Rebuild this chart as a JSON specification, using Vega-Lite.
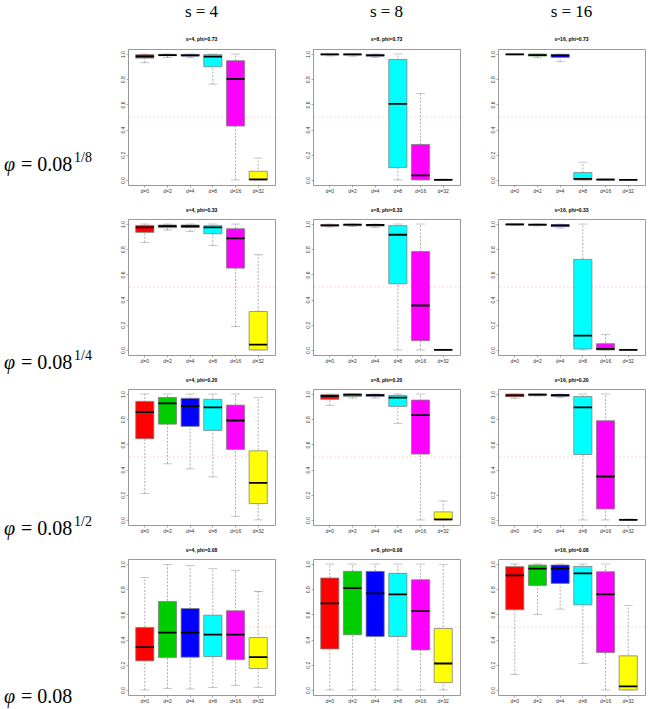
{
"$schema": "https://vega.github.io/schema/vega-lite/v6.json",
"padding": {"left": 4, "top": 2, "right": 2, "bottom": 2},
"columns": 4,
"align": "each",
"bounds": "flush",
"spacing": {"row": 34, "column": 38},
"datasets": {"box": [
{"s":4,"phi":"0.73","d":"d=0","lo":0.931,"q1":0.968,"med":0.981,"q3":0.995,"hi":1},
{"s":4,"phi":"0.73","d":"d=2","lo":0.973,"q1":0.987,"med":0.992,"q3":0.997,"hi":1},
{"s":4,"phi":"0.73","d":"d=4","lo":0.971,"q1":0.984,"med":0.99,"q3":0.997,"hi":1},
{"s":4,"phi":"0.73","d":"d=8","lo":0.761,"q1":0.899,"med":0.979,"q3":0.995,"hi":1},
{"s":4,"phi":"0.73","d":"d=16","lo":0,"q1":0.428,"med":0.803,"q3":0.947,"hi":1},
{"s":4,"phi":"0.73","d":"d=32","lo":0,"q1":0,"med":0.005,"q3":0.069,"hi":0.173},
{"s":8,"phi":"0.73","d":"d=0","lo":0.985,"q1":0.993,"med":0.998,"q3":1,"hi":1},
{"s":8,"phi":"0.73","d":"d=2","lo":0.983,"q1":0.992,"med":0.997,"q3":1,"hi":1},
{"s":8,"phi":"0.73","d":"d=4","lo":0.973,"q1":0.984,"med":0.99,"q3":0.997,"hi":1},
{"s":8,"phi":"0.73","d":"d=8","lo":0,"q1":0.098,"med":0.604,"q3":0.957,"hi":1},
{"s":8,"phi":"0.73","d":"d=16","lo":0,"q1":0,"med":0.037,"q3":0.282,"hi":0.686},
{"s":8,"phi":"0.73","d":"d=32","lo":0,"q1":0,"med":0.001,"q3":0.005,"hi":0.006},
{"s":16,"phi":"0.73","d":"d=0","lo":0.993,"q1":0.995,"med":0.998,"q3":1,"hi":1},
{"s":16,"phi":"0.73","d":"d=2","lo":0.971,"q1":0.984,"med":0.992,"q3":1,"hi":1},
{"s":16,"phi":"0.73","d":"d=4","lo":0.939,"q1":0.973,"med":0.99,"q3":0.997,"hi":1},
{"s":16,"phi":"0.73","d":"d=8","lo":0,"q1":0,"med":0.008,"q3":0.059,"hi":0.141},
{"s":16,"phi":"0.73","d":"d=16","lo":0,"q1":0,"med":0.002,"q3":0.008,"hi":0.008},
{"s":16,"phi":"0.73","d":"d=32","lo":0,"q1":0,"med":0.001,"q3":0.004,"hi":0.005},
{"s":4,"phi":"0.33","d":"d=0","lo":0.854,"q1":0.934,"med":0.973,"q3":0.989,"hi":1},
{"s":4,"phi":"0.33","d":"d=2","lo":0.952,"q1":0.971,"med":0.984,"q3":0.992,"hi":1},
{"s":4,"phi":"0.33","d":"d=4","lo":0.942,"q1":0.973,"med":0.981,"q3":0.992,"hi":1},
{"s":4,"phi":"0.33","d":"d=8","lo":0.83,"q1":0.923,"med":0.973,"q3":0.987,"hi":1},
{"s":4,"phi":"0.33","d":"d=16","lo":0.186,"q1":0.65,"med":0.886,"q3":0.963,"hi":1},
{"s":4,"phi":"0.33","d":"d=32","lo":0,"q1":0,"med":0.042,"q3":0.305,"hi":0.756},
{"s":8,"phi":"0.33","d":"d=0","lo":0.976,"q1":0.984,"med":0.99,"q3":0.995,"hi":1},
{"s":8,"phi":"0.33","d":"d=2","lo":0.98,"q1":0.987,"med":0.995,"q3":0.997,"hi":1},
{"s":8,"phi":"0.33","d":"d=4","lo":0.973,"q1":0.984,"med":0.993,"q3":0.995,"hi":1},
{"s":8,"phi":"0.33","d":"d=8","lo":0,"q1":0.525,"med":0.915,"q3":0.987,"hi":1},
{"s":8,"phi":"0.33","d":"d=16","lo":0,"q1":0.074,"med":0.353,"q3":0.782,"hi":1},
{"s":8,"phi":"0.33","d":"d=32","lo":0,"q1":0,"med":0.001,"q3":0.004,"hi":0.005},
{"s":16,"phi":"0.33","d":"d=0","lo":0.99,"q1":0.992,"med":0.997,"q3":1,"hi":1},
{"s":16,"phi":"0.33","d":"d=2","lo":0.985,"q1":0.989,"med":0.995,"q3":0.997,"hi":1},
{"s":16,"phi":"0.33","d":"d=4","lo":0.968,"q1":0.979,"med":0.99,"q3":0.995,"hi":1},
{"s":16,"phi":"0.33","d":"d=8","lo":0,"q1":0.008,"med":0.114,"q3":0.719,"hi":1},
{"s":16,"phi":"0.33","d":"d=16","lo":0,"q1":0,"med":0.008,"q3":0.05,"hi":0.122},
{"s":16,"phi":"0.33","d":"d=32","lo":0,"q1":0,"med":0.001,"q3":0.004,"hi":0.005},
{"s":4,"phi":"0.20","d":"d=0","lo":0.21,"q1":0.645,"med":0.857,"q3":0.942,"hi":1},
{"s":4,"phi":"0.20","d":"d=2","lo":0.446,"q1":0.761,"med":0.926,"q3":0.973,"hi":1},
{"s":4,"phi":"0.20","d":"d=4","lo":0.406,"q1":0.743,"med":0.905,"q3":0.966,"hi":1},
{"s":4,"phi":"0.20","d":"d=8","lo":0.342,"q1":0.711,"med":0.894,"q3":0.958,"hi":1},
{"s":4,"phi":"0.20","d":"d=16","lo":0.029,"q1":0.56,"med":0.79,"q3":0.912,"hi":1},
{"s":4,"phi":"0.20","d":"d=32","lo":0,"q1":0.13,"med":0.294,"q3":0.549,"hi":0.973},
{"s":8,"phi":"0.20","d":"d=0","lo":0.91,"q1":0.958,"med":0.984,"q3":0.995,"hi":1},
{"s":8,"phi":"0.20","d":"d=2","lo":0.968,"q1":0.981,"med":0.995,"q3":1,"hi":1},
{"s":8,"phi":"0.20","d":"d=4","lo":0.968,"q1":0.981,"med":0.992,"q3":0.997,"hi":1},
{"s":8,"phi":"0.20","d":"d=8","lo":0.767,"q1":0.902,"med":0.971,"q3":0.989,"hi":1},
{"s":8,"phi":"0.20","d":"d=16","lo":0,"q1":0.523,"med":0.833,"q3":0.952,"hi":1},
{"s":8,"phi":"0.20","d":"d=32","lo":0,"q1":0,"med":0.005,"q3":0.064,"hi":0.151},
{"s":16,"phi":"0.20","d":"d=0","lo":0.966,"q1":0.979,"med":0.989,"q3":1,"hi":1},
{"s":16,"phi":"0.20","d":"d=2","lo":0.985,"q1":0.987,"med":0.995,"q3":1,"hi":1},
{"s":16,"phi":"0.20","d":"d=4","lo":0.973,"q1":0.981,"med":0.992,"q3":0.997,"hi":1},
{"s":16,"phi":"0.20","d":"d=8","lo":0,"q1":0.52,"med":0.894,"q3":0.981,"hi":1},
{"s":16,"phi":"0.20","d":"d=16","lo":0,"q1":0.088,"med":0.345,"q3":0.788,"hi":1},
{"s":16,"phi":"0.20","d":"d=32","lo":0,"q1":0,"med":0.001,"q3":0.005,"hi":0.006},
{"s":4,"phi":"0.08","d":"d=0","lo":0,"q1":0.231,"med":0.34,"q3":0.496,"hi":0.894},
{"s":4,"phi":"0.08","d":"d=2","lo":0.013,"q1":0.257,"med":0.456,"q3":0.703,"hi":0.997},
{"s":4,"phi":"0.08","d":"d=4","lo":0.008,"q1":0.26,"med":0.456,"q3":0.647,"hi":0.987},
{"s":4,"phi":"0.08","d":"d=8","lo":0.019,"q1":0.265,"med":0.44,"q3":0.594,"hi":0.963},
{"s":4,"phi":"0.08","d":"d=16","lo":0.037,"q1":0.241,"med":0.44,"q3":0.629,"hi":0.95},
{"s":4,"phi":"0.08","d":"d=32","lo":0.019,"q1":0.17,"med":0.26,"q3":0.416,"hi":0.782},
{"s":8,"phi":"0.08","d":"d=0","lo":0,"q1":0.326,"med":0.687,"q3":0.889,"hi":1},
{"s":8,"phi":"0.08","d":"d=2","lo":0,"q1":0.438,"med":0.809,"q3":0.942,"hi":1},
{"s":8,"phi":"0.08","d":"d=4","lo":0,"q1":0.424,"med":0.767,"q3":0.942,"hi":1},
{"s":8,"phi":"0.08","d":"d=8","lo":0,"q1":0.424,"med":0.759,"q3":0.926,"hi":1},
{"s":8,"phi":"0.08","d":"d=16","lo":0,"q1":0.318,"med":0.626,"q3":0.875,"hi":1},
{"s":8,"phi":"0.08","d":"d=32","lo":0,"q1":0.058,"med":0.21,"q3":0.488,"hi":0.995},
{"s":16,"phi":"0.08","d":"d=0","lo":0.122,"q1":0.637,"med":0.91,"q3":0.979,"hi":1},
{"s":16,"phi":"0.08","d":"d=2","lo":0.6,"q1":0.83,"med":0.963,"q3":0.992,"hi":1},
{"s":16,"phi":"0.08","d":"d=4","lo":0.642,"q1":0.846,"med":0.963,"q3":0.992,"hi":1},
{"s":16,"phi":"0.08","d":"d=8","lo":0.21,"q1":0.676,"med":0.926,"q3":0.981,"hi":1},
{"s":16,"phi":"0.08","d":"d=16","lo":0,"q1":0.297,"med":0.759,"q3":0.939,"hi":1},
{"s":16,"phi":"0.08","d":"d=32","lo":0,"q1":0,"med":0.029,"q3":0.271,"hi":0.671}
]},
"concat": [
{"width":86,"height":136,"view":{"stroke":null},"data":{"values":[{"a":"φ","b":"= 0.08","c":"1/8"}]},
 "encoding":{"x":{"datum":0,"type":"quantitative","scale":{"domain":[0,1]},"axis":null},"y":{"datum":0.07,"type":"quantitative","scale":{"domain":[-0.04,1.04]},"axis":null}},
 "layer":[
  {"mark":{"type":"text","align":"left","baseline":"alphabetic","font":"Liberation Serif","fontSize":20,"fontStyle":"italic"},"encoding":{"text":{"field":"a"}}},
  {"mark":{"type":"text","align":"left","baseline":"alphabetic","font":"Liberation Serif","fontSize":20,"dx":17},"encoding":{"text":{"field":"b"}}},
  {"mark":{"type":"text","align":"left","baseline":"alphabetic","font":"Liberation Serif","fontSize":14,"dx":70,"dy":-9},"encoding":{"text":{"field":"c"}}}
 ]},
{"width":147,"height":136,"title":{"text":"s = 4","subtitle":"s=4, phi=0.73","font":"Liberation Serif","fontSize":17,"fontWeight":"normal"},
 "data":{"name":"box"},"transform":[{"filter":"datum.s == 4 && datum.phi == '0.73'"}],
 "layer":[
  {"transform":[{"aggregate":[{"op":"count","as":"n"}]}],"mark":{"type":"rule","color":"#ffb8c4","strokeDash":[2,2],"strokeWidth":0.6},"encoding":{"y":{"datum":0.5,"type":"quantitative"}}},
  {"mark":{"type":"rule","color":"#9a9a9a","strokeDash":[2,1.5],"strokeWidth":0.8},"encoding":{"x":{"field":"d","type":"nominal","sort":null,"title":null},"y":{"field":"lo","type":"quantitative","scale":{"domain":[-0.04,1.04],"nice":false,"zero":false},"title":null},"y2":{"field":"hi"}}},
  {"mark":{"type":"tick","color":"#9a9a9a","size":9,"thickness":0.8},"encoding":{"x":{"field":"d","type":"nominal","sort":null,"title":null},"y":{"field":"lo","type":"quantitative","title":null}}},
  {"mark":{"type":"tick","color":"#9a9a9a","size":9,"thickness":0.8},"encoding":{"x":{"field":"d","type":"nominal","sort":null,"title":null},"y":{"field":"hi","type":"quantitative","title":null}}},
  {"mark":{"type":"bar","stroke":"#808080","strokeWidth":0.8},"encoding":{"x":{"field":"d","type":"nominal","sort":null,"title":null},"y":{"field":"q1","type":"quantitative","title":null},"y2":{"field":"q3"},"color":{"field":"d","type":"nominal"}}},
  {"mark":{"type":"bar","fill":"transparent","stroke":"#000000","strokeWidth":1.8},"encoding":{"x":{"field":"d","type":"nominal","sort":null,"title":null},"y":{"field":"med","type":"quantitative","title":null},"y2":{"field":"med"}}}
 ]},
{"width":147,"height":136,"title":{"text":"s = 8","subtitle":"s=8, phi=0.73","font":"Liberation Serif","fontSize":17,"fontWeight":"normal"},
 "data":{"name":"box"},"transform":[{"filter":"datum.s == 8 && datum.phi == '0.73'"}],
 "layer":[
  {"transform":[{"aggregate":[{"op":"count","as":"n"}]}],"mark":{"type":"rule","color":"#ffb8c4","strokeDash":[2,2],"strokeWidth":0.6},"encoding":{"y":{"datum":0.5,"type":"quantitative"}}},
  {"mark":{"type":"rule","color":"#9a9a9a","strokeDash":[2,1.5],"strokeWidth":0.8},"encoding":{"x":{"field":"d","type":"nominal","sort":null,"title":null},"y":{"field":"lo","type":"quantitative","scale":{"domain":[-0.04,1.04],"nice":false,"zero":false},"title":null},"y2":{"field":"hi"}}},
  {"mark":{"type":"tick","color":"#9a9a9a","size":9,"thickness":0.8},"encoding":{"x":{"field":"d","type":"nominal","sort":null,"title":null},"y":{"field":"lo","type":"quantitative","title":null}}},
  {"mark":{"type":"tick","color":"#9a9a9a","size":9,"thickness":0.8},"encoding":{"x":{"field":"d","type":"nominal","sort":null,"title":null},"y":{"field":"hi","type":"quantitative","title":null}}},
  {"mark":{"type":"bar","stroke":"#808080","strokeWidth":0.8},"encoding":{"x":{"field":"d","type":"nominal","sort":null,"title":null},"y":{"field":"q1","type":"quantitative","title":null},"y2":{"field":"q3"},"color":{"field":"d","type":"nominal"}}},
  {"mark":{"type":"bar","fill":"transparent","stroke":"#000000","strokeWidth":1.8},"encoding":{"x":{"field":"d","type":"nominal","sort":null,"title":null},"y":{"field":"med","type":"quantitative","title":null},"y2":{"field":"med"}}}
 ]},
{"width":147,"height":136,"title":{"text":"s = 16","subtitle":"s=16, phi=0.73","font":"Liberation Serif","fontSize":17,"fontWeight":"normal"},
 "data":{"name":"box"},"transform":[{"filter":"datum.s == 16 && datum.phi == '0.73'"}],
 "layer":[
  {"transform":[{"aggregate":[{"op":"count","as":"n"}]}],"mark":{"type":"rule","color":"#ffb8c4","strokeDash":[2,2],"strokeWidth":0.6},"encoding":{"y":{"datum":0.5,"type":"quantitative"}}},
  {"mark":{"type":"rule","color":"#9a9a9a","strokeDash":[2,1.5],"strokeWidth":0.8},"encoding":{"x":{"field":"d","type":"nominal","sort":null,"title":null},"y":{"field":"lo","type":"quantitative","scale":{"domain":[-0.04,1.04],"nice":false,"zero":false},"title":null},"y2":{"field":"hi"}}},
  {"mark":{"type":"tick","color":"#9a9a9a","size":9,"thickness":0.8},"encoding":{"x":{"field":"d","type":"nominal","sort":null,"title":null},"y":{"field":"lo","type":"quantitative","title":null}}},
  {"mark":{"type":"tick","color":"#9a9a9a","size":9,"thickness":0.8},"encoding":{"x":{"field":"d","type":"nominal","sort":null,"title":null},"y":{"field":"hi","type":"quantitative","title":null}}},
  {"mark":{"type":"bar","stroke":"#808080","strokeWidth":0.8},"encoding":{"x":{"field":"d","type":"nominal","sort":null,"title":null},"y":{"field":"q1","type":"quantitative","title":null},"y2":{"field":"q3"},"color":{"field":"d","type":"nominal"}}},
  {"mark":{"type":"bar","fill":"transparent","stroke":"#000000","strokeWidth":1.8},"encoding":{"x":{"field":"d","type":"nominal","sort":null,"title":null},"y":{"field":"med","type":"quantitative","title":null},"y2":{"field":"med"}}}
 ]},
{"width":86,"height":136,"view":{"stroke":null},"data":{"values":[{"a":"φ","b":"= 0.08","c":"1/4"}]},
 "encoding":{"x":{"datum":0,"type":"quantitative","scale":{"domain":[0,1]},"axis":null},"y":{"datum":-0.15,"type":"quantitative","scale":{"domain":[-0.04,1.04]},"axis":null}},
 "layer":[
  {"mark":{"type":"text","align":"left","baseline":"alphabetic","font":"Liberation Serif","fontSize":20,"fontStyle":"italic"},"encoding":{"text":{"field":"a"}}},
  {"mark":{"type":"text","align":"left","baseline":"alphabetic","font":"Liberation Serif","fontSize":20,"dx":17},"encoding":{"text":{"field":"b"}}},
  {"mark":{"type":"text","align":"left","baseline":"alphabetic","font":"Liberation Serif","fontSize":14,"dx":70,"dy":-9},"encoding":{"text":{"field":"c"}}}
 ]},
{"width":147,"height":136,"title":{"text":"s=4, phi=0.33"},
 "data":{"name":"box"},"transform":[{"filter":"datum.s == 4 && datum.phi == '0.33'"}],
 "layer":[
  {"transform":[{"aggregate":[{"op":"count","as":"n"}]}],"mark":{"type":"rule","color":"#ffb8c4","strokeDash":[2,2],"strokeWidth":0.6},"encoding":{"y":{"datum":0.5,"type":"quantitative"}}},
  {"mark":{"type":"rule","color":"#9a9a9a","strokeDash":[2,1.5],"strokeWidth":0.8},"encoding":{"x":{"field":"d","type":"nominal","sort":null,"title":null},"y":{"field":"lo","type":"quantitative","scale":{"domain":[-0.04,1.04],"nice":false,"zero":false},"title":null},"y2":{"field":"hi"}}},
  {"mark":{"type":"tick","color":"#9a9a9a","size":9,"thickness":0.8},"encoding":{"x":{"field":"d","type":"nominal","sort":null,"title":null},"y":{"field":"lo","type":"quantitative","title":null}}},
  {"mark":{"type":"tick","color":"#9a9a9a","size":9,"thickness":0.8},"encoding":{"x":{"field":"d","type":"nominal","sort":null,"title":null},"y":{"field":"hi","type":"quantitative","title":null}}},
  {"mark":{"type":"bar","stroke":"#808080","strokeWidth":0.8},"encoding":{"x":{"field":"d","type":"nominal","sort":null,"title":null},"y":{"field":"q1","type":"quantitative","title":null},"y2":{"field":"q3"},"color":{"field":"d","type":"nominal"}}},
  {"mark":{"type":"bar","fill":"transparent","stroke":"#000000","strokeWidth":1.8},"encoding":{"x":{"field":"d","type":"nominal","sort":null,"title":null},"y":{"field":"med","type":"quantitative","title":null},"y2":{"field":"med"}}}
 ]},
{"width":147,"height":136,"title":{"text":"s=8, phi=0.33"},
 "data":{"name":"box"},"transform":[{"filter":"datum.s == 8 && datum.phi == '0.33'"}],
 "layer":[
  {"transform":[{"aggregate":[{"op":"count","as":"n"}]}],"mark":{"type":"rule","color":"#ffb8c4","strokeDash":[2,2],"strokeWidth":0.6},"encoding":{"y":{"datum":0.5,"type":"quantitative"}}},
  {"mark":{"type":"rule","color":"#9a9a9a","strokeDash":[2,1.5],"strokeWidth":0.8},"encoding":{"x":{"field":"d","type":"nominal","sort":null,"title":null},"y":{"field":"lo","type":"quantitative","scale":{"domain":[-0.04,1.04],"nice":false,"zero":false},"title":null},"y2":{"field":"hi"}}},
  {"mark":{"type":"tick","color":"#9a9a9a","size":9,"thickness":0.8},"encoding":{"x":{"field":"d","type":"nominal","sort":null,"title":null},"y":{"field":"lo","type":"quantitative","title":null}}},
  {"mark":{"type":"tick","color":"#9a9a9a","size":9,"thickness":0.8},"encoding":{"x":{"field":"d","type":"nominal","sort":null,"title":null},"y":{"field":"hi","type":"quantitative","title":null}}},
  {"mark":{"type":"bar","stroke":"#808080","strokeWidth":0.8},"encoding":{"x":{"field":"d","type":"nominal","sort":null,"title":null},"y":{"field":"q1","type":"quantitative","title":null},"y2":{"field":"q3"},"color":{"field":"d","type":"nominal"}}},
  {"mark":{"type":"bar","fill":"transparent","stroke":"#000000","strokeWidth":1.8},"encoding":{"x":{"field":"d","type":"nominal","sort":null,"title":null},"y":{"field":"med","type":"quantitative","title":null},"y2":{"field":"med"}}}
 ]},
{"width":147,"height":136,"title":{"text":"s=16, phi=0.33"},
 "data":{"name":"box"},"transform":[{"filter":"datum.s == 16 && datum.phi == '0.33'"}],
 "layer":[
  {"transform":[{"aggregate":[{"op":"count","as":"n"}]}],"mark":{"type":"rule","color":"#ffb8c4","strokeDash":[2,2],"strokeWidth":0.6},"encoding":{"y":{"datum":0.5,"type":"quantitative"}}},
  {"mark":{"type":"rule","color":"#9a9a9a","strokeDash":[2,1.5],"strokeWidth":0.8},"encoding":{"x":{"field":"d","type":"nominal","sort":null,"title":null},"y":{"field":"lo","type":"quantitative","scale":{"domain":[-0.04,1.04],"nice":false,"zero":false},"title":null},"y2":{"field":"hi"}}},
  {"mark":{"type":"tick","color":"#9a9a9a","size":9,"thickness":0.8},"encoding":{"x":{"field":"d","type":"nominal","sort":null,"title":null},"y":{"field":"lo","type":"quantitative","title":null}}},
  {"mark":{"type":"tick","color":"#9a9a9a","size":9,"thickness":0.8},"encoding":{"x":{"field":"d","type":"nominal","sort":null,"title":null},"y":{"field":"hi","type":"quantitative","title":null}}},
  {"mark":{"type":"bar","stroke":"#808080","strokeWidth":0.8},"encoding":{"x":{"field":"d","type":"nominal","sort":null,"title":null},"y":{"field":"q1","type":"quantitative","title":null},"y2":{"field":"q3"},"color":{"field":"d","type":"nominal"}}},
  {"mark":{"type":"bar","fill":"transparent","stroke":"#000000","strokeWidth":1.8},"encoding":{"x":{"field":"d","type":"nominal","sort":null,"title":null},"y":{"field":"med","type":"quantitative","title":null},"y2":{"field":"med"}}}
 ]},
{"width":86,"height":136,"view":{"stroke":null},"data":{"values":[{"a":"φ","b":"= 0.08","c":"1/2"}]},
 "encoding":{"x":{"datum":0,"type":"quantitative","scale":{"domain":[0,1]},"axis":null},"y":{"datum":-0.12,"type":"quantitative","scale":{"domain":[-0.04,1.04]},"axis":null}},
 "layer":[
  {"mark":{"type":"text","align":"left","baseline":"alphabetic","font":"Liberation Serif","fontSize":20,"fontStyle":"italic"},"encoding":{"text":{"field":"a"}}},
  {"mark":{"type":"text","align":"left","baseline":"alphabetic","font":"Liberation Serif","fontSize":20,"dx":17},"encoding":{"text":{"field":"b"}}},
  {"mark":{"type":"text","align":"left","baseline":"alphabetic","font":"Liberation Serif","fontSize":14,"dx":70,"dy":-9},"encoding":{"text":{"field":"c"}}}
 ]},
{"width":147,"height":136,"title":{"text":"s=4, phi=0.20"},
 "data":{"name":"box"},"transform":[{"filter":"datum.s == 4 && datum.phi == '0.20'"}],
 "layer":[
  {"transform":[{"aggregate":[{"op":"count","as":"n"}]}],"mark":{"type":"rule","color":"#ffb8c4","strokeDash":[2,2],"strokeWidth":0.6},"encoding":{"y":{"datum":0.5,"type":"quantitative"}}},
  {"mark":{"type":"rule","color":"#9a9a9a","strokeDash":[2,1.5],"strokeWidth":0.8},"encoding":{"x":{"field":"d","type":"nominal","sort":null,"title":null},"y":{"field":"lo","type":"quantitative","scale":{"domain":[-0.04,1.04],"nice":false,"zero":false},"title":null},"y2":{"field":"hi"}}},
  {"mark":{"type":"tick","color":"#9a9a9a","size":9,"thickness":0.8},"encoding":{"x":{"field":"d","type":"nominal","sort":null,"title":null},"y":{"field":"lo","type":"quantitative","title":null}}},
  {"mark":{"type":"tick","color":"#9a9a9a","size":9,"thickness":0.8},"encoding":{"x":{"field":"d","type":"nominal","sort":null,"title":null},"y":{"field":"hi","type":"quantitative","title":null}}},
  {"mark":{"type":"bar","stroke":"#808080","strokeWidth":0.8},"encoding":{"x":{"field":"d","type":"nominal","sort":null,"title":null},"y":{"field":"q1","type":"quantitative","title":null},"y2":{"field":"q3"},"color":{"field":"d","type":"nominal"}}},
  {"mark":{"type":"bar","fill":"transparent","stroke":"#000000","strokeWidth":1.8},"encoding":{"x":{"field":"d","type":"nominal","sort":null,"title":null},"y":{"field":"med","type":"quantitative","title":null},"y2":{"field":"med"}}}
 ]},
{"width":147,"height":136,"title":{"text":"s=8, phi=0.20"},
 "data":{"name":"box"},"transform":[{"filter":"datum.s == 8 && datum.phi == '0.20'"}],
 "layer":[
  {"transform":[{"aggregate":[{"op":"count","as":"n"}]}],"mark":{"type":"rule","color":"#ffb8c4","strokeDash":[2,2],"strokeWidth":0.6},"encoding":{"y":{"datum":0.5,"type":"quantitative"}}},
  {"mark":{"type":"rule","color":"#9a9a9a","strokeDash":[2,1.5],"strokeWidth":0.8},"encoding":{"x":{"field":"d","type":"nominal","sort":null,"title":null},"y":{"field":"lo","type":"quantitative","scale":{"domain":[-0.04,1.04],"nice":false,"zero":false},"title":null},"y2":{"field":"hi"}}},
  {"mark":{"type":"tick","color":"#9a9a9a","size":9,"thickness":0.8},"encoding":{"x":{"field":"d","type":"nominal","sort":null,"title":null},"y":{"field":"lo","type":"quantitative","title":null}}},
  {"mark":{"type":"tick","color":"#9a9a9a","size":9,"thickness":0.8},"encoding":{"x":{"field":"d","type":"nominal","sort":null,"title":null},"y":{"field":"hi","type":"quantitative","title":null}}},
  {"mark":{"type":"bar","stroke":"#808080","strokeWidth":0.8},"encoding":{"x":{"field":"d","type":"nominal","sort":null,"title":null},"y":{"field":"q1","type":"quantitative","title":null},"y2":{"field":"q3"},"color":{"field":"d","type":"nominal"}}},
  {"mark":{"type":"bar","fill":"transparent","stroke":"#000000","strokeWidth":1.8},"encoding":{"x":{"field":"d","type":"nominal","sort":null,"title":null},"y":{"field":"med","type":"quantitative","title":null},"y2":{"field":"med"}}}
 ]},
{"width":147,"height":136,"title":{"text":"s=16, phi=0.20"},
 "data":{"name":"box"},"transform":[{"filter":"datum.s == 16 && datum.phi == '0.20'"}],
 "layer":[
  {"transform":[{"aggregate":[{"op":"count","as":"n"}]}],"mark":{"type":"rule","color":"#ffb8c4","strokeDash":[2,2],"strokeWidth":0.6},"encoding":{"y":{"datum":0.5,"type":"quantitative"}}},
  {"mark":{"type":"rule","color":"#9a9a9a","strokeDash":[2,1.5],"strokeWidth":0.8},"encoding":{"x":{"field":"d","type":"nominal","sort":null,"title":null},"y":{"field":"lo","type":"quantitative","scale":{"domain":[-0.04,1.04],"nice":false,"zero":false},"title":null},"y2":{"field":"hi"}}},
  {"mark":{"type":"tick","color":"#9a9a9a","size":9,"thickness":0.8},"encoding":{"x":{"field":"d","type":"nominal","sort":null,"title":null},"y":{"field":"lo","type":"quantitative","title":null}}},
  {"mark":{"type":"tick","color":"#9a9a9a","size":9,"thickness":0.8},"encoding":{"x":{"field":"d","type":"nominal","sort":null,"title":null},"y":{"field":"hi","type":"quantitative","title":null}}},
  {"mark":{"type":"bar","stroke":"#808080","strokeWidth":0.8},"encoding":{"x":{"field":"d","type":"nominal","sort":null,"title":null},"y":{"field":"q1","type":"quantitative","title":null},"y2":{"field":"q3"},"color":{"field":"d","type":"nominal"}}},
  {"mark":{"type":"bar","fill":"transparent","stroke":"#000000","strokeWidth":1.8},"encoding":{"x":{"field":"d","type":"nominal","sort":null,"title":null},"y":{"field":"med","type":"quantitative","title":null},"y2":{"field":"med"}}}
 ]},
{"width":86,"height":136,"view":{"stroke":null},"data":{"values":[{"a":"φ","b":"= 0.08"}]},
 "encoding":{"x":{"datum":0,"type":"quantitative","scale":{"domain":[0,1]},"axis":null},"y":{"datum":-0.1,"type":"quantitative","scale":{"domain":[-0.04,1.04]},"axis":null}},
 "layer":[
  {"mark":{"type":"text","align":"left","baseline":"alphabetic","font":"Liberation Serif","fontSize":20,"fontStyle":"italic"},"encoding":{"text":{"field":"a"}}},
  {"mark":{"type":"text","align":"left","baseline":"alphabetic","font":"Liberation Serif","fontSize":20,"dx":17},"encoding":{"text":{"field":"b"}}}
 ]},
{"width":147,"height":136,"title":{"text":"s=4, phi=0.08"},
 "data":{"name":"box"},"transform":[{"filter":"datum.s == 4 && datum.phi == '0.08'"}],
 "layer":[
  {"transform":[{"aggregate":[{"op":"count","as":"n"}]}],"mark":{"type":"rule","color":"#ffb8c4","strokeDash":[2,2],"strokeWidth":0.6},"encoding":{"y":{"datum":0.5,"type":"quantitative"}}},
  {"mark":{"type":"rule","color":"#9a9a9a","strokeDash":[2,1.5],"strokeWidth":0.8},"encoding":{"x":{"field":"d","type":"nominal","sort":null,"title":null},"y":{"field":"lo","type":"quantitative","scale":{"domain":[-0.04,1.04],"nice":false,"zero":false},"title":null},"y2":{"field":"hi"}}},
  {"mark":{"type":"tick","color":"#9a9a9a","size":9,"thickness":0.8},"encoding":{"x":{"field":"d","type":"nominal","sort":null,"title":null},"y":{"field":"lo","type":"quantitative","title":null}}},
  {"mark":{"type":"tick","color":"#9a9a9a","size":9,"thickness":0.8},"encoding":{"x":{"field":"d","type":"nominal","sort":null,"title":null},"y":{"field":"hi","type":"quantitative","title":null}}},
  {"mark":{"type":"bar","stroke":"#808080","strokeWidth":0.8},"encoding":{"x":{"field":"d","type":"nominal","sort":null,"title":null},"y":{"field":"q1","type":"quantitative","title":null},"y2":{"field":"q3"},"color":{"field":"d","type":"nominal"}}},
  {"mark":{"type":"bar","fill":"transparent","stroke":"#000000","strokeWidth":1.8},"encoding":{"x":{"field":"d","type":"nominal","sort":null,"title":null},"y":{"field":"med","type":"quantitative","title":null},"y2":{"field":"med"}}}
 ]},
{"width":147,"height":136,"title":{"text":"s=8, phi=0.08"},
 "data":{"name":"box"},"transform":[{"filter":"datum.s == 8 && datum.phi == '0.08'"}],
 "layer":[
  {"transform":[{"aggregate":[{"op":"count","as":"n"}]}],"mark":{"type":"rule","color":"#ffb8c4","strokeDash":[2,2],"strokeWidth":0.6},"encoding":{"y":{"datum":0.5,"type":"quantitative"}}},
  {"mark":{"type":"rule","color":"#9a9a9a","strokeDash":[2,1.5],"strokeWidth":0.8},"encoding":{"x":{"field":"d","type":"nominal","sort":null,"title":null},"y":{"field":"lo","type":"quantitative","scale":{"domain":[-0.04,1.04],"nice":false,"zero":false},"title":null},"y2":{"field":"hi"}}},
  {"mark":{"type":"tick","color":"#9a9a9a","size":9,"thickness":0.8},"encoding":{"x":{"field":"d","type":"nominal","sort":null,"title":null},"y":{"field":"lo","type":"quantitative","title":null}}},
  {"mark":{"type":"tick","color":"#9a9a9a","size":9,"thickness":0.8},"encoding":{"x":{"field":"d","type":"nominal","sort":null,"title":null},"y":{"field":"hi","type":"quantitative","title":null}}},
  {"mark":{"type":"bar","stroke":"#808080","strokeWidth":0.8},"encoding":{"x":{"field":"d","type":"nominal","sort":null,"title":null},"y":{"field":"q1","type":"quantitative","title":null},"y2":{"field":"q3"},"color":{"field":"d","type":"nominal"}}},
  {"mark":{"type":"bar","fill":"transparent","stroke":"#000000","strokeWidth":1.8},"encoding":{"x":{"field":"d","type":"nominal","sort":null,"title":null},"y":{"field":"med","type":"quantitative","title":null},"y2":{"field":"med"}}}
 ]},
{"width":147,"height":136,"title":{"text":"s=16, phi=0.08"},
 "data":{"name":"box"},"transform":[{"filter":"datum.s == 16 && datum.phi == '0.08'"}],
 "layer":[
  {"transform":[{"aggregate":[{"op":"count","as":"n"}]}],"mark":{"type":"rule","color":"#ffb8c4","strokeDash":[2,2],"strokeWidth":0.6},"encoding":{"y":{"datum":0.5,"type":"quantitative"}}},
  {"mark":{"type":"rule","color":"#9a9a9a","strokeDash":[2,1.5],"strokeWidth":0.8},"encoding":{"x":{"field":"d","type":"nominal","sort":null,"title":null},"y":{"field":"lo","type":"quantitative","scale":{"domain":[-0.04,1.04],"nice":false,"zero":false},"title":null},"y2":{"field":"hi"}}},
  {"mark":{"type":"tick","color":"#9a9a9a","size":9,"thickness":0.8},"encoding":{"x":{"field":"d","type":"nominal","sort":null,"title":null},"y":{"field":"lo","type":"quantitative","title":null}}},
  {"mark":{"type":"tick","color":"#9a9a9a","size":9,"thickness":0.8},"encoding":{"x":{"field":"d","type":"nominal","sort":null,"title":null},"y":{"field":"hi","type":"quantitative","title":null}}},
  {"mark":{"type":"bar","stroke":"#808080","strokeWidth":0.8},"encoding":{"x":{"field":"d","type":"nominal","sort":null,"title":null},"y":{"field":"q1","type":"quantitative","title":null},"y2":{"field":"q3"},"color":{"field":"d","type":"nominal"}}},
  {"mark":{"type":"bar","fill":"transparent","stroke":"#000000","strokeWidth":1.8},"encoding":{"x":{"field":"d","type":"nominal","sort":null,"title":null},"y":{"field":"med","type":"quantitative","title":null},"y2":{"field":"med"}}}
 ]}
],
"config": {
 "font": "Liberation Sans",
 "view": {"stroke": "#999999", "strokeWidth": 1},
 "axis": {"grid": false, "domain": false, "tickSize": 2, "tickColor": "#777777", "tickWidth": 0.6, "labelFontSize": 5, "labelColor": "#333333", "labelPadding": 1, "labelFont": "Liberation Sans"},
 "axisY": {"labelAngle": -90, "tickCount": 5, "labelAlign": "center", "labelBaseline": "bottom"},
 "axisX": {"labelAngle": 0},
 "title": {"fontSize": 5, "fontWeight": "bold", "font": "Liberation Sans", "offset": 6, "frame": "group", "color": "#000000", "subtitleFontSize": 5, "subtitleFontWeight": "bold", "subtitleFont": "Liberation Sans", "subtitlePadding": 16, "subtitleColor": "#000000"},
 "scale": {"bandPaddingInner": 0.2, "bandPaddingOuter": 0.34},
 "range": {"category": ["#FF0000", "#FF00FF", "#00CD00", "#FFFF00", "#0000FF", "#00FFFF"]},
 "legend": {"disable": true}
}
}
